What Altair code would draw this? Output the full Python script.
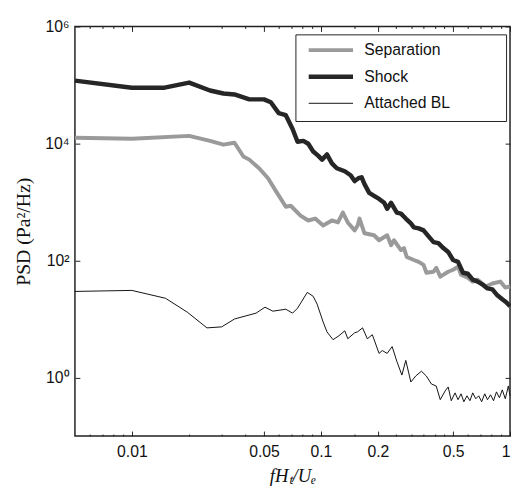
import altair as alt
import pandas as pd

# ---- data ----
series_names = ["Separation", "Shock", "Attached BL"]
series_colors = ["#9a9a9a", "#262626", "#111111"]
series_widths = [4, 4.5, 1]

shock_f = [0.005, 0.01, 0.0149, 0.0201, 0.0259, 0.0305, 0.0349, 0.0418, 0.05, 0.0543,
           0.0598, 0.0652, 0.0708, 0.0752, 0.0807, 0.0857, 0.091, 0.0966, 0.1014, 0.1076,
           0.1143, 0.1213, 0.1337, 0.1435, 0.1507, 0.158, 0.164, 0.170, 0.180, 0.191,
           0.203, 0.216, 0.224, 0.235, 0.252, 0.265, 0.281, 0.299, 0.310, 0.329,
           0.349, 0.371, 0.394, 0.418, 0.444, 0.471, 0.5, 0.531, 0.564, 0.598,
           0.635, 0.675, 0.716, 0.760, 0.807, 0.857, 0.910, 0.955, 1.0]
shock_psd = [1.19e5, 9.0e4, 9.0e4, 1.1e5, 8.05e4, 7.16e4, 6.9e4, 5.68e4, 5.68e4, 5.06e4,
             3.30e4, 3.05e4, 1.77e4, 1.07e4, 1.11e4, 9.9e3, 7.3e3, 6.2e3, 5.3e3, 6.5e3,
             4.57e3, 3.77e3, 3.35e3, 2.87e3, 2.28e3, 2.55e3, 2.65e3, 2.02e3, 1.43e3, 1.27e3,
             1.13e3, 970, 769, 970, 658, 632, 521, 430, 368, 354,
             327, 259, 206, 198, 163, 140, 102, 94.6, 61.8, 59.4,
             47.1, 43.6, 38.8, 33.3, 32.0, 25.4, 21.7, 19.3, 16.6]

sep_f = [0.005, 0.01, 0.0201, 0.0259, 0.0305, 0.0349, 0.0389, 0.0418, 0.0471, 0.0525,
         0.0577, 0.0652, 0.0692, 0.0780, 0.0857, 0.0933, 0.1027, 0.1143, 0.1230, 0.1306,
         0.1387, 0.1507, 0.1563, 0.160, 0.170, 0.191, 0.203, 0.224, 0.235, 0.2434,
         0.265, 0.2748, 0.2844, 0.310, 0.329, 0.349, 0.3614, 0.394, 0.4074, 0.4276,
         0.471, 0.5, 0.531, 0.5508, 0.598, 0.635, 0.675, 0.743, 0.807, 0.889, 0.944, 1.0]
sep_psd = [1.25e4, 1.21e4, 1.35e4, 1.11e4, 9.55e3, 1.03e4, 6.0e3, 5.3e3, 3.77e3, 2.55e3,
           1.55e3, 830, 863, 586, 483, 521, 397, 483, 447, 658,
           447, 327, 397, 521, 292, 270, 222, 270, 183, 222,
           151, 163, 115, 102, 94.6, 84.3, 61.8, 64.3, 75.0, 53.0,
           64.3, 69.5, 78.0, 57.2, 50.9, 43.6, 47.1, 36.0, 40.4, 43.6, 34.6, 36.0]

att_f = [0.005, 0.01, 0.01507, 0.01963, 0.02495, 0.02985, 0.0349, 0.0454, 0.0506, 0.0557,
         0.0652, 0.0708, 0.0752, 0.0847, 0.091, 0.0955, 0.1027, 0.1076, 0.1159, 0.1245,
         0.1337, 0.1387, 0.1507, 0.1563, 0.166, 0.176, 0.187, 0.203, 0.211, 0.224,
         0.238, 0.252, 0.268, 0.281, 0.299, 0.317, 0.340, 0.361, 0.384, 0.407,
         0.4276, 0.454, 0.471, 0.489, 0.512, 0.531, 0.551, 0.570, 0.592, 0.614,
         0.635, 0.659, 0.683, 0.708, 0.735, 0.760, 0.789, 0.818, 0.848, 0.879,
         0.910, 0.944, 0.980, 1.0]
att_psd = [29.6, 30.8, 22.6, 13.1, 7.05, 7.33, 10.0, 12.6, 15.9, 13.6,
           14.7, 12.6, 15.3, 28.5, 24.4, 17.9, 8.9, 6.04, 4.43, 5.17,
           6.28, 4.60, 5.81, 6.04, 7.05, 4.60, 5.38, 2.58, 2.89, 2.58,
           3.38, 1.89, 1.10, 1.96, 0.837, 1.06, 1.28, 1.06, 0.774, 0.716,
           0.417, 0.590, 0.689, 0.401, 0.546, 0.417, 0.526, 0.385, 0.486, 0.401,
           0.546, 0.433, 0.486, 0.385, 0.526, 0.417, 0.506, 0.401, 0.568, 0.450,
           0.614, 0.433, 0.716, 0.486]

x_major = [0.01, 0.05, 0.1, 0.2, 0.5, 1]
x_minor = [0.006, 0.007, 0.008, 0.009, 0.02, 0.03, 0.04, 0.06, 0.07, 0.08, 0.09,
           0.15, 0.25, 0.3, 0.35, 0.4, 0.45, 0.6, 0.7, 0.8, 0.9]
y_ticks = [1, 100, 1e4, 1e6]
x_domain = [0.005, 1]
y_domain = [0.1, 1e6]

frames = []
for name, fs, ps in [("Separation", sep_f, sep_psd), ("Shock", shock_f, shock_psd),
                     ("Attached BL", att_f, att_psd)]:
    frames.append(pd.DataFrame({"f": fs, "psd": ps, "series": name}))
df = pd.concat(frames, ignore_index=True)

xs = alt.Scale(type="log", domain=x_domain, nice=False)
ys = alt.Scale(type="log", domain=y_domain, nice=False)

TICK = "#222222"
sup = "datum.value == 1 ? '10\u2070' : datum.value == 100 ? '10\u00b2' : datum.value == 10000 ? '10\u2074' : '10\u2076'"

ax_bottom = alt.Axis(orient="bottom", values=x_major, tickSize=5, offset=-5, domain=False,
                     grid=False, labelExpr="format(datum.value, '~g')", labelFlush=True,
                     labelOverlap=False, labelFont="Liberation Sans", labelFontSize=16,
                     labelColor="#111", labelPadding=8, tickColor=TICK, tickWidth=1,
                     title="fH\u209c/U\u2091", titleFont="Liberation Serif",
                     titleFontStyle="italic", titleFontWeight="normal", titleFontSize=19,
                     titleColor="#111", titlePadding=7)
ax_bottom_minor = alt.Axis(orient="bottom", values=x_minor, tickSize=2, offset=-2,
                           domain=False, grid=False, labels=False, title=None,
                           tickColor=TICK, tickWidth=1)
ax_top = alt.Axis(orient="top", values=x_major, tickSize=5, offset=-5, domain=False,
                  grid=False, labels=False, title=None, tickColor=TICK, tickWidth=1)
ax_top_minor = alt.Axis(orient="top", values=x_minor, tickSize=2, offset=-2, domain=False,
                        grid=False, labels=False, title=None, tickColor=TICK, tickWidth=1)
ax_left = alt.Axis(orient="left", values=y_ticks, tickSize=5, offset=-5, domain=False,
                   grid=False, labelExpr=sup, labelFont="Liberation Sans", labelFontSize=16,
                   labelColor="#111", labelPadding=6, tickColor=TICK, tickWidth=1,
                   title="PSD (Pa\u00b2/Hz)", titleFont="Liberation Serif",
                   titleFontWeight="normal", titleFontSize=20, titleColor="#111",
                   titlePadding=11)
ax_right = alt.Axis(orient="right", values=y_ticks, tickSize=5, offset=-5, domain=False,
                    grid=False, labels=False, title=None, tickColor=TICK, tickWidth=1)

legend_kw = dict(orient="none", legendX=224, legendY=8, title="\u00a0", titleOrient="right",
                 titlePadding=47, titleFontSize=8, symbolType="stroke", symbolSize=2025,
                 symbolOffset=1, clipHeight=12, rowPadding=11, padding=10,
                 strokeColor="#222", fillColor="white", labelFont="Liberation Sans",
                 labelFontSize=16, labelColor="#111", labelOffset=9)

lines = alt.Chart(df).mark_line(strokeJoin="round").encode(
    x=alt.X("f:Q", scale=xs, axis=ax_bottom),
    y=alt.Y("psd:Q", scale=ys, axis=ax_left),
    color=alt.Color("series:N", scale=alt.Scale(domain=series_names, range=series_colors),
                    legend=alt.Legend(**legend_kw)),
    strokeWidth=alt.StrokeWidth("series:N",
                                scale=alt.Scale(type="ordinal", domain=series_names,
                                                range=series_widths),
                                legend=alt.Legend(**legend_kw)),
)


def ghost(xaxis, yaxis):
    return alt.Chart(df).mark_line(strokeOpacity=0).encode(
        x=alt.X("f:Q", scale=xs, axis=xaxis),
        y=alt.Y("psd:Q", scale=ys, axis=yaxis),
        detail="series:N",
    )


chart = alt.layer(
    lines,
    ghost(ax_bottom_minor, ax_right),
    ghost(ax_top, None),
    ghost(ax_top_minor, None),
).resolve_axis(x="independent", y="independent").properties(
    width=442, height=416,
    padding={"left": 68, "top": 15, "right": 1, "bottom": 47},
    autosize=alt.AutoSizeParams(type="none"),
    background="white",
).configure_view(stroke="#222", strokeWidth=1.5)

chart.save("out.html", embed_options={"renderer": "svg", "actions": False})
